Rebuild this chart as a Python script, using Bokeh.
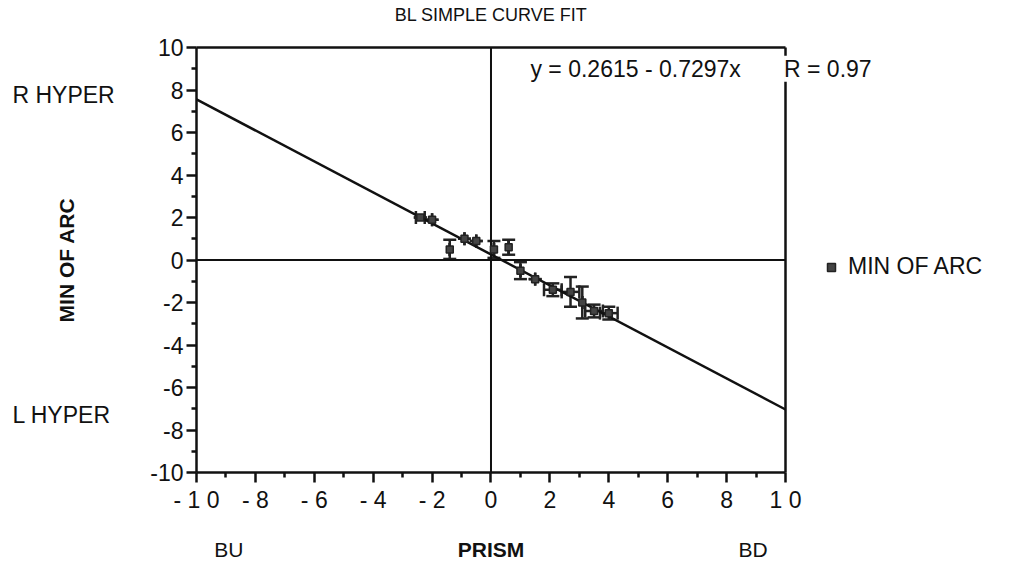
import math
from bokeh.plotting import figure
from bokeh.models import (Range1d, FixedTicker, Label, Whisker, ColumnDataSource,
                          TeeHead, Legend, LegendItem, LinearAxis)
from bokeh.embed import file_html
from bokeh.resources import INLINE

# ---- data ----
prism = [-2.4, -2.0, -1.4, -0.9, -0.5, 0.1, 0.6, 1.0, 1.5, 2.1, 2.7, 3.1, 3.5, 4.0]
min_of_arc = [2.0, 1.9, 0.5, 1.0, 0.9, 0.5, 0.6, -0.5, -0.9, -1.4, -1.5, -2.0, -2.4, -2.5]
y_err = [0.0, 0.0, 0.45, 0.0, 0.0, 0.4, 0.35, 0.4, 0.0, 0.3, 0.7, 0.75, 0.3, 0.3]
x_err = [0.15, 0.0, 0.0, 0.0, 0.0, 0.0, 0.0, 0.0, 0.0, 0.3, 0.3, 0.0, 0.3, 0.3]

fit_intercept = 0.2615
fit_slope = -0.7297
fit_r = 0.97

y_ticks = [-10, -8, -6, -4, -2, 0, 2, 4, 6, 8, 10]
y_minor = [-9, -7, -5, -3, -1, 1, 3, 5, 7, 9]
y_tick_labels = {-10: "-10", -8: "-8", -6: "-6", -4: "-4", -2: "-2", 0: "0",
                 2: "2", 4: "4", 6: "6", 8: "8", 10: "10"}
x_ticks = [-10, -8, -6, -4, -2, 0, 2, 4, 6, 8, 10]
x_minor = [-9, -7, -5, -3, -1, 1, 3, 5, 7, 9]
x_tick_labels = {-10: "- 1 0", -8: "- 8", -6: "- 6", -4: "- 4", -2: "- 2", 0: "0",
                 2: "2", 4: "4", 6: "6", 8: "8", 10: "1 0"}

FONT = "Liberation Sans"
INK = "#111111"

# the plotting box (-10..10 in both directions) sits inside a wider data window,
# so that the texts around it live in the same coordinate system
p = figure(width=1036, height=562, output_backend="svg", toolbar_location=None,
           x_range=Range1d(-16.655, 18.523), y_range=Range1d(-14.235, 12.212),
           x_axis_location=None, y_axis_location=None,
           min_border_left=0, min_border_right=0, min_border_top=0, min_border_bottom=0)
p.background_fill_color = "white"
p.border_fill_color = "white"
p.grid.visible = False
p.outline_line_color = None

def make_axis():
    ax = LinearAxis(fixed_location=-10, bounds=(-10, 10))
    ax.axis_line_color = INK
    ax.axis_line_width = 2.5
    ax.major_tick_line_color = INK
    ax.major_tick_line_width = 2.5
    ax.minor_tick_line_color = INK
    ax.minor_tick_line_width = 2.5
    ax.major_tick_out = 10
    ax.major_tick_in = 0
    ax.minor_tick_out = 5
    ax.minor_tick_in = 0
    ax.major_label_text_font = FONT
    ax.major_label_text_font_size = "23px"
    ax.major_label_text_color = INK
    return ax

yax = make_axis()
yax.ticker = FixedTicker(ticks=y_ticks, minor_ticks=y_minor)
yax.major_label_overrides = dict(y_tick_labels)
yax.major_label_standoff = 3
xax = make_axis()
xax.ticker = FixedTicker(ticks=x_ticks, minor_ticks=x_minor)
xax.major_label_overrides = dict(x_tick_labels)
xax.major_label_standoff = 4
p.add_layout(yax, "left")
p.add_layout(xax, "below")

# top / right border of the plotting box: unlabeled axes fixed at the far edges
top_ax = LinearAxis(fixed_location=10, bounds=(-10, 10), ticker=FixedTicker(ticks=[]),
                    axis_line_color=INK, axis_line_width=2.5, major_label_text_alpha=0)
right_ax = LinearAxis(fixed_location=10, bounds=(-10, 10), ticker=FixedTicker(ticks=[]),
                      axis_line_color=INK, axis_line_width=2.5, major_label_text_alpha=0)
p.add_layout(top_ax, "above")
p.add_layout(right_ax, "right")

# crosshair through the origin
p.segment(x0=[0, -10], y0=[-10, 0], x1=[0, 10], y1=[10, 0], line_color=INK, line_width=2)

# fit line
fx = [-10, 10]
fy = [fit_intercept + fit_slope * v for v in fx]
p.line(fx, fy, line_color=INK, line_width=2.5)

# error bars
src = ColumnDataSource(dict(
    x=prism, y=min_of_arc,
    ylo=[a - e for a, e in zip(min_of_arc, y_err)], yhi=[a + e for a, e in zip(min_of_arc, y_err)],
    xlo=[a - e for a, e in zip(prism, x_err)], xhi=[a + e for a, e in zip(prism, x_err)],
))
def head():
    return TeeHead(size=13, line_color="#222222", line_width=2.5)
p.add_layout(Whisker(source=src, base="x", lower="ylo", upper="yhi", dimension="height",
                     line_color="#222222", line_width=2.5, lower_head=head(), upper_head=head()))
p.add_layout(Whisker(source=src, base="y", lower="xlo", upper="xhi", dimension="width",
                     line_color="#222222", line_width=2.5, lower_head=head(), upper_head=head()))

pts = p.scatter("x", "y", source=src, marker="square", size=7,
                fill_color="#444444", line_color="#222222", line_width=1.5)

legend = Legend(items=[LegendItem(label="MIN OF ARC", renderers=[pts])],
                location=(821, 562 - 280), border_line_color=None, background_fill_alpha=0,
                padding=0, margin=0, glyph_width=20, glyph_height=24, label_standoff=7,
                label_text_font=FONT, label_text_font_size="23px", label_text_color=INK)
p.add_layout(legend)

def lab(x, y, text, size="21px", align="center", bold=False, angle=0.0, bg=None):
    l = Label(x=x, y=y, text=text, text_font=FONT, text_font_size=size,
              text_align=align, text_baseline="middle", angle=angle,
              text_font_style="bold" if bold else "normal", text_color=INK)
    if bg:
        l.background_fill_color = bg
    p.add_layout(l)

lab(0.0, 11.55, "BL SIMPLE CURVE FIT", size="18px")
lab(-8.9, -13.6, "BU")
lab(0.0, -13.6, "PRISM", bold=True)
lab(8.9, -13.6, "BD")
lab(-16.25, 7.75, "R HYPER", size="23px", align="left")
lab(-16.25, -7.3, "L HYPER", size="23px", align="left")
lab(-14.4, 0.0, "MIN OF ARC", bold=True, angle=math.pi / 2)
lab(1.34, 9.0, "y = %.4f - %.4fx" % (fit_intercept, abs(fit_slope)), size="23px", align="left", bg="white")
lab(9.95, 9.0, "R = %.2f" % fit_r, size="23px", align="left", bg="white")

open("out.html", "w").write(file_html(p, INLINE))
